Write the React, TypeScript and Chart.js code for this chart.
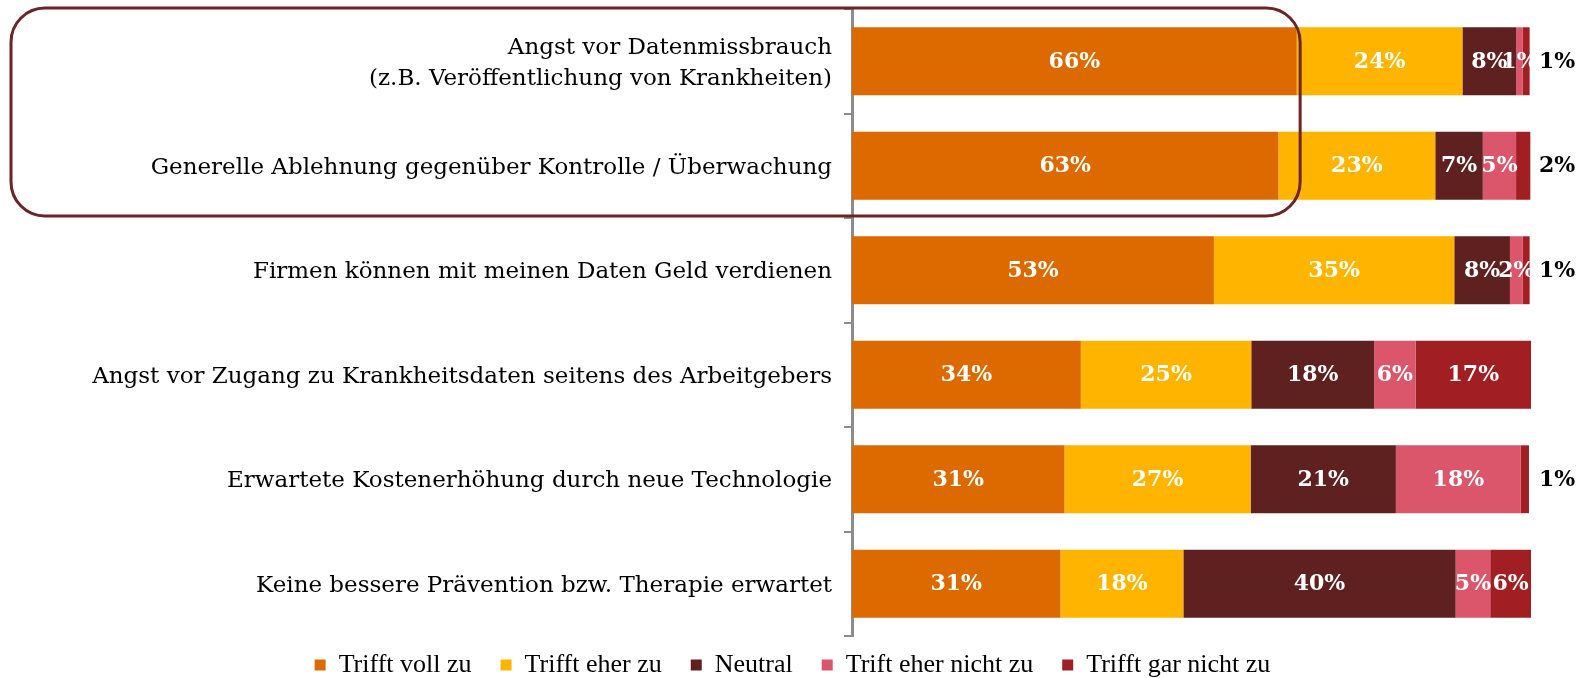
import React, { useEffect, useRef } from 'react';
import { Chart, registerables } from 'chart.js';
Chart.register(...registerables);

const categories: (string | string[])[] = [
  ['Angst vor Datenmissbrauch', '(z.B. Veröffentlichung von Krankheiten)'],
  'Generelle Ablehnung gegenüber Kontrolle / Überwachung',
  'Firmen können mit meinen Daten Geld verdienen',
  'Angst vor Zugang zu Krankheitsdaten seitens des Arbeitgebers',
  'Erwartete Kostenerhöhung durch neue Technologie',
  'Keine bessere Prävention bzw. Therapie erwartet',
];
const seriesNames = ['Trifft voll zu', 'Trifft eher zu', 'Neutral', 'Trift eher nicht zu', 'Trifft gar nicht zu'];
const seriesColors = ['#DD6A00', '#FFB500', '#5F2120', '#DC566B', '#A11E22'];
const trifftVollZu = [65.5, 62.8, 53.3, 33.7, 31.3, 30.7];
const trifftEherZu = [24.4, 23.1, 35.4, 25.1, 27.4, 18.1];
const neutral = [7.9, 7.0, 8.2, 18.1, 21.4, 40.1];
const triftEherNichtZu = [1.0, 4.9, 1.9, 6.1, 18.4, 5.1];
const trifftGarNichtZu = [1.0, 2.1, 1.0, 17.0, 1.2, 6.0];
const seriesValues = [trifftVollZu, trifftEherZu, neutral, triftEherNichtZu, trifftGarNichtZu];

// highlight box: spans the first two categories up to the 66% mark
const highlightXValue = 66;
const highlightLastCategory = 1;

const segLabels = {
  id: 'segLabels',
  afterDatasetsDraw(chart: any) {
    const ctx = chart.ctx;
    ctx.save();
    ctx.font = 'bold 22px "DejaVu Serif"';
    ctx.textBaseline = 'middle';
    ctx.textAlign = 'center';
    const last = chart.data.datasets.length - 1;
    chart.data.datasets.forEach((ds: any, di: number) => {
      const meta = chart.getDatasetMeta(di);
      meta.data.forEach((bar: any, i: number) => {
        const v = ds.data[i];
        const { x, y, base } = bar.getProps(['x', 'y', 'base'], true);
        const txt = Math.round(v) + '%';
        if (di === last && v < 3) {
          ctx.fillStyle = '#000';
          ctx.fillText(txt, chart.chartArea.right + 26, y + 1);
        } else {
          ctx.fillStyle = '#fff';
          ctx.fillText(txt, (x + base) / 2, y + 1);
        }
      });
    });
    ctx.restore();
  },
};

const highlightBox = {
  id: 'highlightBox',
  afterDraw(chart: any) {
    const ctx = chart.ctx;
    const xs = chart.scales.x;
    const ys = chart.scales.y;
    const left = 11;
    const top = chart.chartArea.top - 1;
    const right = xs.getPixelForValue(highlightXValue);
    const bottom = ys.getPixelForValue(highlightLastCategory + 0.5) - 2;
    ctx.save();
    ctx.strokeStyle = '#6B2525';
    ctx.lineWidth = 3;
    ctx.beginPath();
    ctx.roundRect(left, top, right - left, bottom - top, 34);
    ctx.stroke();
    ctx.restore();
  },
};

export default function App() {
  const ref = useRef<HTMLCanvasElement>(null);
  useEffect(() => {
    document.body.style.margin = '0';
    const n = seriesNames.length;
    const chart = new Chart(ref.current!, {
      type: 'bar',
      data: {
        labels: categories,
        datasets: seriesNames.map((name, i) => ({
          label: name,
          data: seriesValues[i],
          backgroundColor: seriesColors[i],
          borderWidth: 0,
          barPercentage: 0.65,
          categoryPercentage: 1,
        })),
      },
      options: {
        indexAxis: 'y',
        animation: false,
        responsive: true,
        maintainAspectRatio: false,
        layout: { padding: { top: 9, right: 0, bottom: -10, left: 0 } },
        scales: {
          x: { display: false, stacked: true, min: 0, max: 100 },
          y: {
            stacked: true,
            afterFit: (s: any) => { s.width = 852; s.paddingTop = 0; s.paddingBottom = 0; },
            grid: { display: true, drawOnChartArea: false, drawTicks: true, tickLength: 8, offset: true, color: '#8C8C8C', lineWidth: 2 },
            border: { display: true, color: '#8C8C8C', width: 3 },
            ticks: { color: '#000', padding: 12, labelOffset: 2, font: { family: '"DejaVu Serif"', size: 23, lineHeight: 1.36 } },
          },
          yRight: {
            type: 'category',
            position: 'right',
            display: true,
            afterFit: (s: any) => { s.width = 54; s.paddingTop = 0; s.paddingBottom = 0; },
            grid: { display: false, drawTicks: false },
            border: { display: false },
            ticks: { display: false },
          },
        },
        plugins: {
          tooltip: { enabled: false },
          legend: {
            position: 'bottom',
            labels: {
              boxWidth: 11,
              boxHeight: 11,
              padding: 16,
              color: '#000',
              font: { family: '"Liberation Serif"', size: 26 },
              generateLabels: (c: any) =>
                Chart.defaults.plugins.legend.labels.generateLabels(c).map((l: any, i: number) => ({
                  ...l,
                  lineWidth: 0,
                  text: i < n - 1 ? l.text + '\u00A0\u00A0' : l.text,
                })),
            },
          },
        },
      },
      plugins: [segLabels, highlightBox],
    });
    return () => chart.destroy();
  }, []);
  return (
    <div style={{ width: 1585, height: 678, position: 'relative' }}>
      <canvas ref={ref} />
    </div>
  );
}
